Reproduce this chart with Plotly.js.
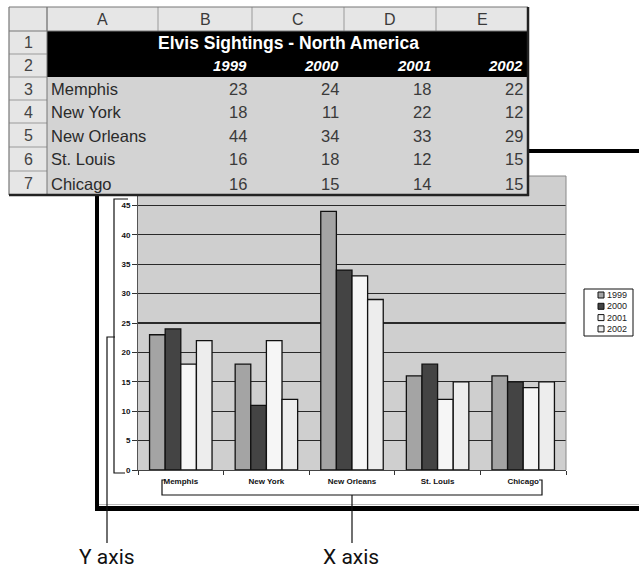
<!DOCTYPE html>
<html><head><meta charset="utf-8">
<script src="https://cdn.plot.ly/plotly-3.0.1.min.js"></script>
<style>html,body{margin:0;padding:0;background:#fff;overflow:hidden}</style>
</head><body><div id="chart" style="width:639px;height:571px"></div>
<script>
// ---- data ----
const tableTitle = 'Elvis Sightings - North America';
const cities = ['Memphis', 'New York', 'New Orleans', 'St. Louis', 'Chicago'];
const years = ['1999', '2000', '2001', '2002'];
const v1999 = [23, 18, 44, 16, 16];
const v2000 = [24, 11, 34, 18, 15];
const v2001 = [18, 22, 33, 12, 14];
const v2002 = [22, 12, 29, 15, 15];
const colLetters = ['A', 'B', 'C', 'D', 'E'];
const rowNumbers = ['1', '2', '3', '4', '5', '6', '7'];
const yTickVals = [0, 5, 10, 15, 20, 25, 30, 35, 40, 45];
const calloutLabels = ['Y axis', 'X axis'];

// ---- styles / geometry ----
const W = 639, H = 571;
const X = v => v / W, Y = v => 1 - v / H;
const series = [v1999, v2000, v2001, v2002];
const barColors = ['#a4a4a4', '#444444', '#f6f6f6', '#ededed'];
const colEdges = [9, 47, 158, 252, 344, 436, 528];
const rowEdges = [7, 31, 54, 77, 100, 123, 147, 171, 195];
const FONT = 'Liberation Sans, Arial, sans-serif';

const traces = years.map((yr, i) => ({
  type: 'bar', name: yr, x: cities, y: series[i],
  marker: {color: barColors[i], line: {color: '#111', width: 1.3}},
  showlegend: false, hoverinfo: 'skip'
}));

const shapes = [];
const ann = [];
function line(x0, y0, x1, y1, color, width) {
  shapes.push({type: 'line', xref: 'paper', yref: 'paper', x0: X(x0), y0: Y(y0), x1: X(x1), y1: Y(y1),
    line: {color: color, width: width}, layer: 'above'});
}
function rect(x0, y0, x1, y1, fill, lc, lw) {
  shapes.push({type: 'rect', xref: 'paper', yref: 'paper', x0: X(x0), y0: Y(y0), x1: X(x1), y1: Y(y1),
    fillcolor: fill, line: {color: lc || 'rgba(0,0,0,0)', width: lw || 0}, layer: 'above'});
}
function path(pts, color, width) {
  const d = pts.map((p, i) => (i ? 'L' : 'M') + X(p[0]) + ',' + Y(p[1])).join(' ');
  shapes.push({type: 'path', xref: 'paper', yref: 'paper', path: d, line: {color: color, width: width}, layer: 'above'});
}
function text(t, x, y, xa, size, color, extraFont) {
  ann.push({text: t, x: X(x), y: Y(y), xref: 'paper', yref: 'paper', xanchor: xa, yanchor: 'middle',
    showarrow: false, font: Object.assign({family: FONT, size: size, color: color}, extraFont || {})});
}

// plot area top/right border
line(138, 176, 566, 176, '#888', 1);
line(566, 176, 566, 470, '#888', 1);

// chart frame (thick lines)
line(97, 151, 640, 151, '#000', 4);
line(97, 149, 97, 510, '#000', 4);
line(95, 508.5, 640, 508.5, '#000', 5);
line(99, 504.5, 640, 504.5, '#bbb', 1);

// brackets and callouts
path([[128, 199], [114, 199], [114, 473], [125, 473]], '#111', 1.2);
path([[115, 337], [107, 337], [107, 543]], '#111', 1.2);
path([[165, 480], [162, 480], [162, 495], [542, 495], [542, 480], [539, 480]], '#111', 1.2);
path([[352, 495], [352, 543]], '#111', 1.2);
text(calloutLabels[0], 107, 557, 'center', 21, '#111', {family: 'Roboto, sans-serif'});
text(calloutLabels[1], 351, 557, 'center', 21, '#111', {family: 'Roboto, sans-serif'});

// legend (custom, compact)
rect(584, 289, 633, 336, '#fff', '#111', 1);
years.forEach((yr, i) => {
  const cy = 295 + i * 11.3;
  rect(598, cy - 3, 604, cy + 3, barColors[i], '#111', 1);
  text(yr, 605, cy, 'left', 9, '#222');
});

// ---- spreadsheet ----
rect(colEdges[0], rowEdges[0], colEdges[6], rowEdges[8], '#d3d3d3');
rect(colEdges[0], rowEdges[0], colEdges[6], rowEdges[1], '#e6e6e6');
rect(colEdges[0], rowEdges[1], colEdges[1], rowEdges[8], '#e6e6e6');
rect(colEdges[1], rowEdges[1], colEdges[6], rowEdges[3], '#000');
for (let c = 1; c < 6; c++) line(colEdges[c], rowEdges[0], colEdges[c], rowEdges[1], '#9a9a9a', 1);
for (let r = 2; r < 8; r++) line(colEdges[0], rowEdges[r], colEdges[1], rowEdges[r], '#9a9a9a', 1);
line(colEdges[0], rowEdges[1], colEdges[6], rowEdges[1], '#777', 1);
line(colEdges[1], rowEdges[0], colEdges[1], rowEdges[8], '#777', 1);
line(colEdges[0], rowEdges[0], colEdges[6], rowEdges[0], '#777', 1.2);
line(colEdges[0], rowEdges[0], colEdges[0], rowEdges[8], '#777', 1.2);
line(colEdges[6], rowEdges[0], colEdges[6], rowEdges[8] + 1, '#222', 2.5);
line(colEdges[0], rowEdges[8], colEdges[6] + 1, rowEdges[8], '#222', 2.5);

const rc = r => (rowEdges[r] + rowEdges[r + 1]) / 2;
colLetters.forEach((L, c) => text(L, (colEdges[c + 1] + colEdges[c + 2]) / 2, rc(0) + 0.5, 'center', 16, '#3a3a3a'));
rowNumbers.forEach((n, r) => text(n, (colEdges[0] + colEdges[1]) / 2, rc(r + 1) + 0.5, 'center', 16, '#444'));
text(tableTitle, (colEdges[1] + colEdges[6]) / 2 + 1, rc(1) + 0.5, 'center', 17.5, '#fff', {weight: 'bold'});
years.forEach((yr, i) => text('<b><i>' + yr + '</i></b>', colEdges[i + 3] - 3, rc(2) + 0.5, 'right', 15, '#fff'));
cities.forEach((city, r) => {
  text(city, colEdges[1] + 2, rc(r + 3) + 0.5, 'left', 16.5, '#2a2a2a');
  series.forEach((s, i) => text(String(s[r]), colEdges[i + 3] - 3, rc(r + 3) + 0.5, 'right', 16.5, '#3a3a3a'));
});

const layout = {
  width: W, height: H, autosize: false,
  margin: {l: 0, r: 0, t: 0, b: 0, pad: 0},
  paper_bgcolor: '#fff', plot_bgcolor: '#cfcfcf',
  barmode: 'group', bargap: 0.27, bargroupgap: 0,
  showlegend: false,
  xaxis: {domain: [X(138), X(566)], type: 'category', tickson: 'boundaries', ticks: 'outside', ticklen: 4,
    tickcolor: '#333', showgrid: false, showline: true, linecolor: '#444', linewidth: 1, zeroline: false,
    ticklabelstandoff: 3,
    tickfont: {family: FONT, size: 8, color: '#111', weight: 'bold'}, fixedrange: true},
  yaxis: {domain: [Y(470), Y(176)], range: [0, 50], tickvals: yTickVals, ticks: 'outside', ticklen: 5,
    tickcolor: '#333', showgrid: true, gridcolor: '#2a2a2a', gridwidth: 1.3, showline: true, linecolor: '#555',
    linewidth: 1, zeroline: false, tickfont: {family: FONT, size: 8, color: '#111', weight: 'bold'}, fixedrange: true},
  shapes: shapes, annotations: ann
};
Plotly.newPlot('chart', traces, layout, {displayModeBar: false, staticPlot: true});
</script></body></html>
